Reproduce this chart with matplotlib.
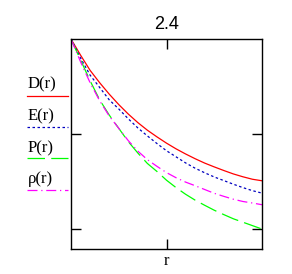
import numpy as np
import matplotlib
matplotlib.use("Agg")
import matplotlib.pyplot as plt
from matplotlib.lines import Line2D

# ---- data ----
r = [0.0, 0.05, 0.1, 0.15, 0.2, 0.25, 0.3, 0.35, 0.4, 0.45, 0.5,
     0.55, 0.6, 0.65, 0.7, 0.75, 0.8, 0.85, 0.9, 0.95, 1.0]
D = [1.0, 0.915, 0.835, 0.77, 0.71, 0.655, 0.605, 0.56, 0.52, 0.485, 0.452,
     0.422, 0.395, 0.37, 0.347, 0.327, 0.308, 0.29, 0.275, 0.262, 0.254]
E = [1.0, 0.9, 0.81, 0.745, 0.68, 0.632, 0.58, 0.532, 0.49, 0.45, 0.412,
     0.38, 0.348, 0.32, 0.296, 0.274, 0.255, 0.236, 0.218, 0.202, 0.189]
P = [1.0, 0.89, 0.78, 0.68, 0.6, 0.53, 0.46, 0.4, 0.345, 0.303, 0.257,
     0.218, 0.183, 0.152, 0.125, 0.099, 0.076, 0.054, 0.036, 0.018, 0.0]
rho = [1.0, 0.88, 0.77, 0.675, 0.595, 0.53, 0.465, 0.41, 0.365, 0.33, 0.297,
       0.27, 0.247, 0.228, 0.208, 0.188, 0.172, 0.157, 0.145, 0.137, 0.128]

labels = ["D(r)", "E(r)", "P(r)", "\u03c1(r)"]
colors = ["#ff0000", "#0000c0", "#00ff00", "#ff00ff"]
styles = ["-", (0, (2, 2)), (0, (14, 5)), (0, (8, 3, 1, 3))]

W, H = 292, 274
fig = plt.figure(figsize=(W / 100, H / 100), dpi=100)
ax = fig.add_axes([71 / W, 1 - 249 / H, 191 / W, 210 / H])

for y, c, ls in zip([D, E, P, rho], colors, styles):
    ax.plot(r, y, color=c, linestyle=ls, linewidth=0.9)

ax.set_xlim(0, 1)
ax.set_ylim(-0.105, 1.0)
ax.set_xticks([0.5])
ax.set_yticks([0, 0.5])
ax.tick_params(direction="in", length=7.5, width=1, top=True, right=True,
               labelbottom=False, labelleft=False)
for s in ax.spines.values():
    s.set_linewidth(1)

ax.set_title("2.4", fontsize=13, family="Liberation Sans", pad=7)
ax.set_xlabel("r", fontsize=12, family="Liberation Serif", labelpad=3)

# legend on the left, outside the axes
def fx(px):
    return px / W

def fy(py):
    return 1 - py / H

text_y = [88, 120, 152, 183]
line_y = [96, 127, 158, 190]
for lab, c, ls, ty, ly in zip(labels, colors, styles, text_y, line_y):
    fig.text(fx(28), fy(ty), lab, fontsize=12, family="Liberation Serif",
             ha="left", va="baseline")
    fig.add_artist(Line2D([fx(27), fx(68)], [fy(ly), fy(ly)], color=c,
                          linestyle=ls, linewidth=0.9,
                          transform=fig.transFigure))

fig.savefig("out.png", dpi=100)
